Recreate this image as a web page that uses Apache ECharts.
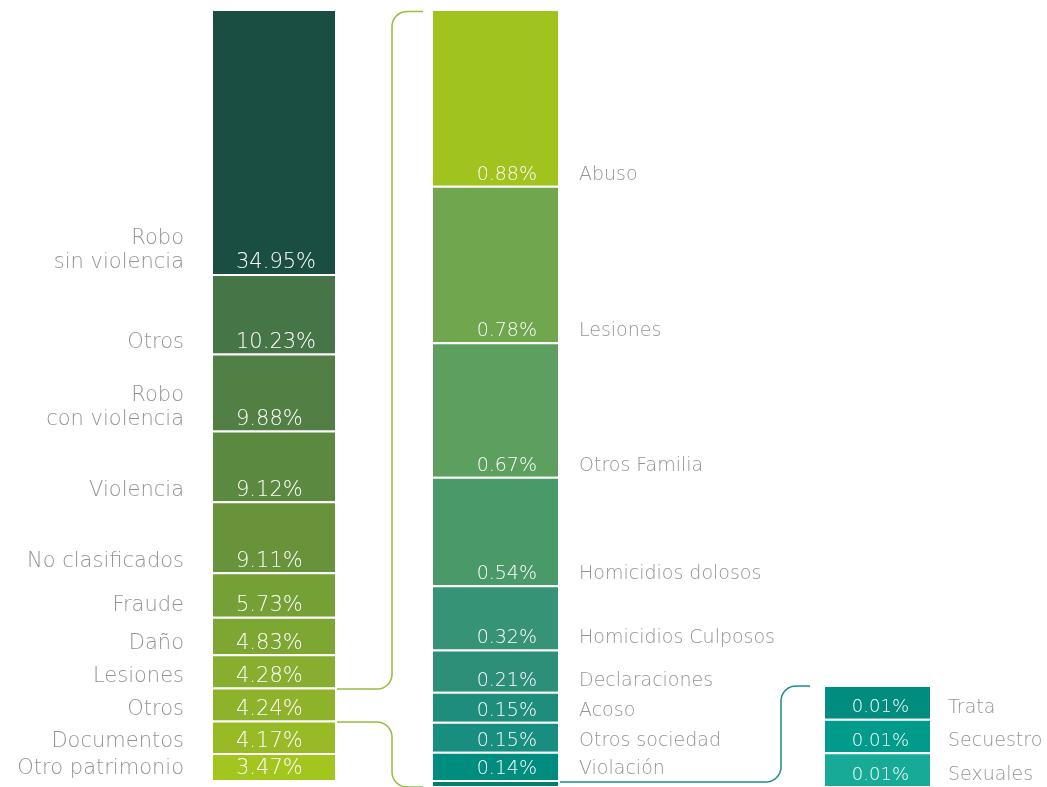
<!DOCTYPE html>
<html>
<head>
<meta charset="utf-8">
<script src="https://cdn.jsdelivr.net/npm/echarts@6/dist/echarts.min.js"></script>
<style>
  html, body { margin: 0; padding: 0; background: #fff; }
  #chart { width: 1047px; height: 787px; }
</style>
</head>
<body>
<div id="chart"></div>
<script>
// Crime categories, share of total (%), listed top to bottom of each column
const leftNames = ['Robo\nsin violencia', 'Otros', 'Robo\ncon violencia', 'Violencia', 'No clasificados',
  'Fraude', 'Daño', 'Lesiones', 'Otros', 'Documentos', 'Otro patrimonio'];
const leftValues = [34.95, 10.23, 9.88, 9.12, 9.11, 5.73, 4.83, 4.28, 4.24, 4.17, 3.47];

// Breakdown of "Otros" (4.24%)
const midNames = ['Abuso', 'Lesiones', 'Otros Familia', 'Homicidios dolosos', 'Homicidios Culposos',
  'Declaraciones', 'Acoso', 'Otros sociedad', 'Violación', ''];
const midValues = [0.88, 0.78, 0.67, 0.54, 0.32, 0.21, 0.15, 0.15, 0.14, 0.03];

// Breakdown of the smallest group
const rightNames = ['Trata', 'Secuestro', 'Sexuales'];
const rightValues = [0.01, 0.01, 0.01];

// Palettes
const leftColors = ['#1a4e42', '#467648', '#517f44', '#5c8940', '#68933b', '#74a036',
  '#7ea632', '#88ad2f', '#8fb22b', '#97ba26', '#a2c61e'];
const midColors = ['#a0c41d', '#70a64e', '#5c9f5f', '#4a9a69', '#369375', '#2d8f78',
  '#1f8d7c', '#178e7f', '#008c7e', '#007e72'];
const rightColors = ['#008c7f', '#009b8b', '#17aa96'];

const FONT = '"DejaVu Sans", sans-serif';
const GREY = '#939393';

// Column layout; the first column's axis stops short of its total so the
// tallest block is cut at the top edge of its grid
const COLS = [
  { left: 212, width: 124, top: 10, height: 771, max: 99.14 },
  { left: 432, width: 127, top: 10, height: 778, max: null },
  { left: 824, width: 107, top: 686, height: 104, max: null }
];

const sum = a => a.reduce((s, v) => s + v, 0);

function stackSeries(idx, names, values, colors, opt) {
  const n = values.length;
  const data = values.map((v, i) => {
    let base = 0;
    for (let j = i + 1; j < n; j++) base += values[j];
    return [0, base, base + v, i];
  });
  return {
    type: 'custom',
    xAxisIndex: idx,
    yAxisIndex: idx,
    clip: false,
    silent: true,
    encode: { x: 0, y: [1, 2] },
    data: data,
    renderItem: function (params, api) {
      const i = api.value(3);
      const lo = api.coord([0, api.value(1)]);
      const hi = api.coord([0, api.value(2)]);
      const top = Math.max(hi[1], params.coordSys.y);
      const w = api.size([1, 0])[0];
      const x0 = lo[0] - w / 2;
      const x1 = lo[0] + w / 2;
      const children = [{
        type: 'rect',
        shape: { x: x0, y: top, width: w, height: lo[1] - top },
        style: { fill: colors[i], stroke: '#ffffff', lineWidth: 2 }
      }];
      if (names[i]) {
        const by = lo[1];
        children.push({
          type: 'text',
          style: {
            text: values[i].toFixed(2) + '%',
            x: opt.valueSide === 'left' ? x0 + opt.valueInset : x1 - opt.valueInset,
            y: by,
            align: opt.valueSide,
            verticalAlign: 'bottom',
            fill: '#ffffff',
            fontFamily: FONT, fontWeight: 200, fontSize: opt.valueSize, lineHeight: 24
          }
        });
        children.push({
          type: 'text',
          style: {
            text: names[i],
            x: opt.nameSide === 'left' ? x0 - opt.nameGap : x1 + opt.nameGap,
            y: by,
            align: opt.nameSide === 'left' ? 'right' : 'left',
            verticalAlign: 'bottom',
            fill: GREY,
            fontFamily: FONT, fontWeight: 200, fontSize: opt.nameSize, lineHeight: 24
          }
        });
      }
      return { type: 'group', children: children };
    }
  };
}

const totals = [sum(leftValues), sum(midValues), sum(rightValues)];

const chart = echarts.init(document.getElementById('chart'), null, { renderer: 'canvas' });
chart.setOption({
  animation: false,
  backgroundColor: '#ffffff',
  grid: COLS.map(c => ({ left: c.left, top: c.top, width: c.width, height: c.height, containLabel: false })),
  xAxis: COLS.map((c, k) => ({ type: 'category', gridIndex: k, data: ['x'], show: false })),
  yAxis: COLS.map((c, k) => ({ type: 'value', gridIndex: k, min: 0, max: c.max || totals[k], show: false })),
  series: [
    stackSeries(0, leftNames, leftValues, leftColors,
      { valueSide: 'left', valueInset: 24, nameSide: 'left', nameGap: 28, valueSize: 21, nameSize: 21 }),
    stackSeries(1, midNames, midValues, midColors,
      { valueSide: 'right', valueInset: 22, nameSide: 'right', nameGap: 20, valueSize: 19, nameSize: 19 }),
    stackSeries(2, rightNames, rightValues, rightColors,
      { valueSide: 'right', valueInset: 22, nameSide: 'right', nameGap: 17, valueSize: 18, nameSize: 19 })
  ]
});

// Connector brackets between a segment and its breakdown column
function bracket(x0, y0, xv, x1, y1, r) {
  const dir = y1 > y0 ? 1 : -1;
  const pts = [[x0, y0]];
  const steps = 12;
  for (let s = 0; s <= steps; s++) {
    const t = s / steps * Math.PI / 2;
    pts.push([xv - r + r * Math.sin(t), y0 + dir * r - dir * r * Math.cos(t)]);
  }
  for (let s = 0; s <= steps; s++) {
    const t = s / steps * Math.PI / 2;
    pts.push([xv + r - r * Math.cos(t), y1 - dir * r + dir * r * Math.sin(t)]);
  }
  pts.push([x1, y1]);
  return pts;
}

const otrosIdx = 8;
let otrosBase = 0;
for (let j = otrosIdx + 1; j < leftValues.length; j++) otrosBase += leftValues[j];
const yOtrosTop = chart.convertToPixel({ yAxisIndex: 0 }, otrosBase + leftValues[otrosIdx]);
const yOtrosBottom = chart.convertToPixel({ yAxisIndex: 0 }, otrosBase);
const yMidTop = chart.convertToPixel({ yAxisIndex: 1 }, totals[1]);
const yMidBottom = chart.convertToPixel({ yAxisIndex: 1 }, 0);
const yMidLast = chart.convertToPixel({ yAxisIndex: 1 }, midValues[midValues.length - 1]);
const yRightTop = chart.convertToPixel({ yAxisIndex: 2 }, totals[2]);

const leftEdge = COLS[0].left + COLS[0].width;
const midLeft = COLS[1].left;
const midRight = COLS[1].left + COLS[1].width;
const rightLeft = COLS[2].left;

const green = '#93bf3c';
const teal = '#1a8f85';
chart.setOption({
  graphic: [
    { type: 'polyline', silent: true,
      shape: { points: bracket(leftEdge, yOtrosTop + 0.5, 392, midLeft - 9, yMidTop + 1.5, 15) },
      style: { stroke: green, lineWidth: 1.5, fill: null } },
    { type: 'polyline', silent: true,
      shape: { points: bracket(leftEdge, yOtrosBottom + 0.5, 392, midLeft - 9, yMidBottom, 15) },
      style: { stroke: green, lineWidth: 1.5, fill: null } },
    { type: 'polyline', silent: true,
      shape: { points: bracket(midRight, yMidLast + 1, 781, rightLeft - 14, yRightTop, 15) },
      style: { stroke: teal, lineWidth: 1.5, fill: null } }
  ]
});
</script>
</body>
</html>
